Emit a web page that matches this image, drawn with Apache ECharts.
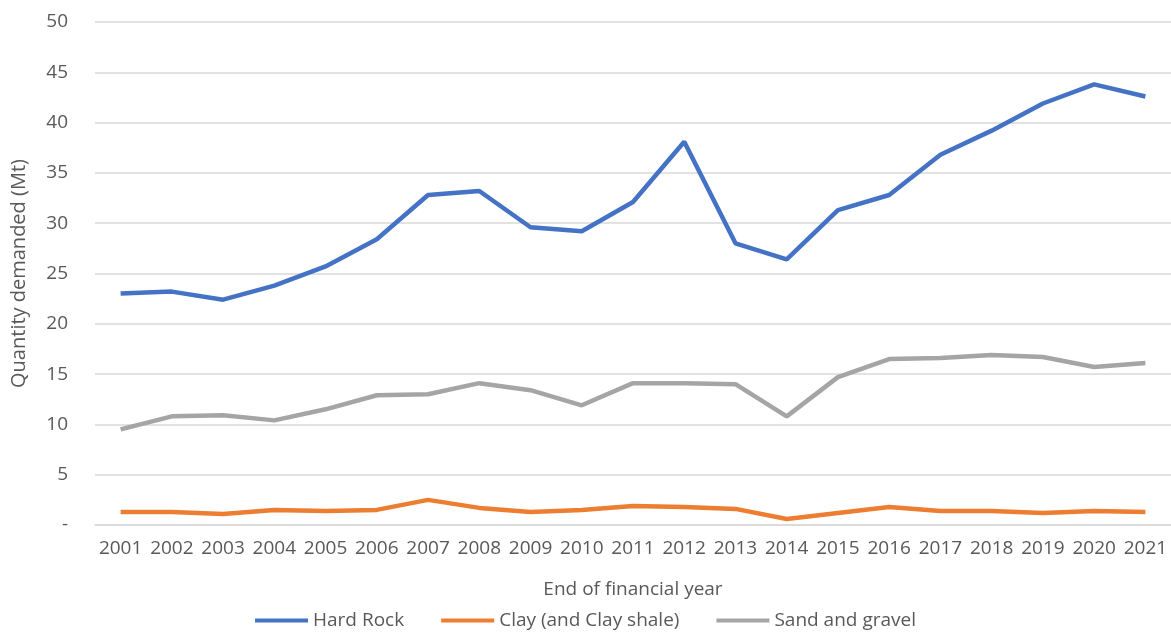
<!DOCTYPE html>
<html>
<head>
<meta charset="utf-8">
<script src="https://cdn.jsdelivr.net/npm/echarts@6/dist/echarts.min.js"></script>
<style>html,body{margin:0;padding:0;background:#fff;}#chart{width:1171px;height:635px;}</style>
</head>
<body>
<div id="chart"></div>
<script>
const years = ['2001','2002','2003','2004','2005','2006','2007','2008','2009','2010','2011','2012','2013','2014','2015','2016','2017','2018','2019','2020','2021'];
const hardRock = [23.0, 23.2, 22.4, 23.8, 25.7, 28.4, 32.8, 33.2, 29.6, 29.2, 32.1, 38.1, 28.0, 26.4, 31.3, 32.8, 36.8, 39.2, 41.9, 43.8, 42.6];
const clay = [1.3, 1.3, 1.1, 1.5, 1.4, 1.5, 2.5, 1.7, 1.3, 1.5, 1.9, 1.8, 1.6, 0.6, 1.2, 1.8, 1.4, 1.4, 1.2, 1.4, 1.3];
const sandGravel = [9.5, 10.8, 10.9, 10.4, 11.5, 12.9, 13.0, 14.1, 13.4, 11.9, 14.1, 14.1, 14.0, 10.8, 14.7, 16.5, 16.6, 16.9, 16.7, 15.7, 16.1];
const seriesNames = ['Hard Rock', 'Clay (and Clay shale)', 'Sand and gravel'];

const font = '"Open Sans", sans-serif';
const txt = '#595959';
const chart = echarts.init(document.getElementById('chart'), null, {renderer: 'canvas'});
const mk = (name, data, color) => ({
  name, type: 'line', data, symbol: 'none', smooth: false,
  lineStyle: {width: 4.5, color}, itemStyle: {color}
});
chart.setOption({
  animation: false,
  backgroundColor: '#fff',
  color: ['#4472C4', '#ED7D31', '#A5A5A5'],
  grid: {left: 95, right: 0, top: 22, bottom: 110, containLabel: false, outerBoundsMode: 'none'},
  legend: {
    data: seriesNames, bottom: 0, left: 'center', icon: 'rect',
    itemWidth: 53, itemHeight: 4, itemGap: 37,
    textStyle: {fontFamily: font, fontSize: 19, color: txt}
  },
  xAxis: {
    type: 'category', data: years, boundaryGap: true,
    name: 'End of financial year', nameLocation: 'middle', nameGap: 55,
    nameTextStyle: {fontFamily: font, fontSize: 19, color: txt},
    axisLine: {show: true, lineStyle: {color: '#D9D9D9', width: 1.5}},
    axisTick: {show: false},
    axisLabel: {fontFamily: font, fontSize: 19, color: txt, margin: 14, interval: 0}
  },
  yAxis: {
    type: 'value', min: 0, max: 50, interval: 5,
    name: 'Quantity demanded (Mt)', nameLocation: 'middle', nameGap: 66,
    nameTextStyle: {fontFamily: font, fontSize: 20, color: txt},
    axisLine: {show: false}, axisTick: {show: false},
    splitLine: {lineStyle: {color: '#D9D9D9', width: 1.5}},
    axisLabel: {fontFamily: font, fontSize: 19, color: txt, margin: 27,
      formatter: v => v === 0 ? '-' : String(v)}
  },
  series: [
    mk(seriesNames[0], hardRock, '#4472C4'),
    mk(seriesNames[1], clay, '#ED7D31'),
    mk(seriesNames[2], sandGravel, '#A5A5A5')
  ]
});
</script>
</body>
</html>
